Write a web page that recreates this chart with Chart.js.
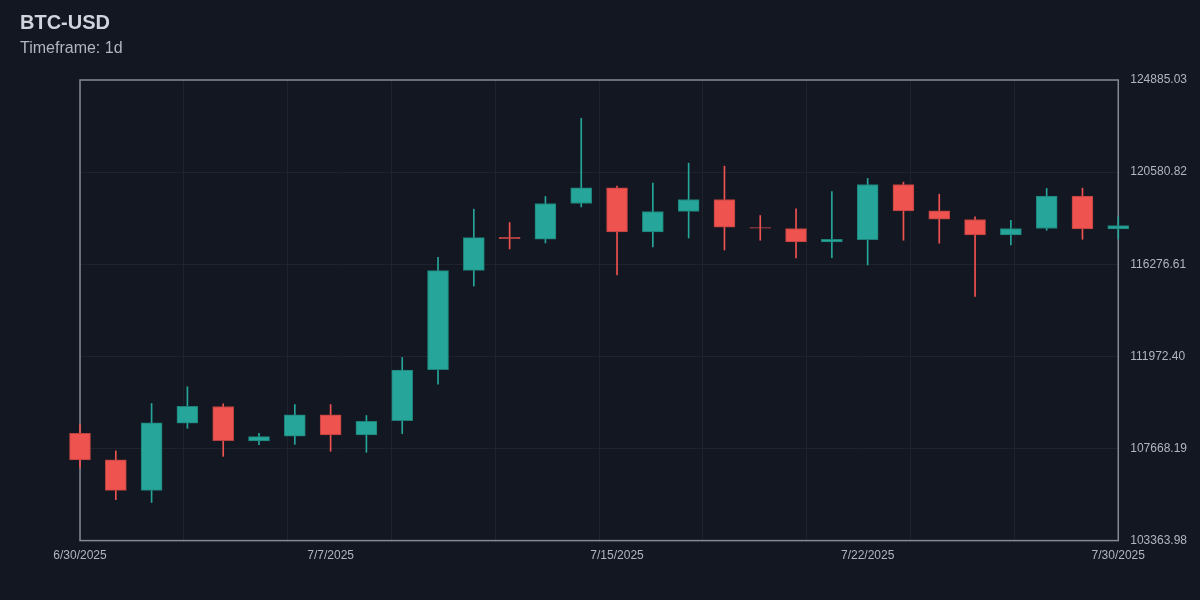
<!DOCTYPE html>
<html lang="en">
<head>
    <meta charset="UTF-8">
    <title>BTC-USD</title>
    <script src="https://cdn.jsdelivr.net/npm/chart.js"></script>
    <style>
        body, html {
            margin: 0;
            padding: 0;
            background-color: #131722;
            font-family: 'Liberation Sans', Arial, sans-serif;
            overflow: hidden;
        }
        .wrap {
            position: relative;
            width: 1200px;
            height: 600px;
        }
        .title {
            position: absolute;
            left: 20px;
            top: 11px;
            font-size: 20px;
            font-weight: bold;
            color: #d1d4dc;
        }
        .subtitle {
            position: absolute;
            left: 20px;
            top: 39px;
            font-size: 16px;
            color: #b2b5be;
        }
    </style>
</head>
<body>
    <div class="wrap">
        <canvas id="chart" width="1200" height="600"></canvas>
        <div class="title">BTC-USD</div>
        <div class="subtitle">Timeframe: 1d</div>
    </div>
    <script>
        // daily OHLC, 6/30 .. 7/30
        const opens  = [108379, 107134, 105711, 108847, 109628, 108023, 108238, 109240, 108304, 108973,
                        111346, 115993, 117537, 117444, 119115, 119845, 117785, 118745, 119302, 117991,
                        117945, 117317, 117430, 120004, 118768, 118366, 117645, 117945, 119456, 117926];
        const highs  = [108786, 107555, 109769, 110550, 109755, 108379, 109722, 109722, 109207, 111921,
                        116601, 118848, 118225, 119442, 123093, 119924, 120065, 121001, 120860, 118553,
                        118862, 119676, 120285, 120111, 119550, 118487, 118333, 119817, 119831, 118487];
        const lows   = [106787, 105276, 105149, 108613, 107302, 107850, 107864, 107536, 107489, 108365,
                        110672, 115258, 116990, 117271, 118955, 115773, 117083, 117505, 116943, 117397,
                        116569, 116587, 116241, 117397, 117257, 114776, 117177, 117865, 117444, 117458];
        const closes = [107134, 105711, 108865, 109642, 108037, 108224, 109240, 108304, 108940, 111327,
                        115979, 117523, 117477, 119115, 119845, 117785, 118740, 119302, 118005, 117959,
                        117317, 117444, 120004, 118768, 118380, 117645, 117945, 119456, 117926, 118085];

        const dateTicks  = [0, 7, 15, 22, 29];
        const dateLabels = ['6/30/2025', '7/7/2025', '7/15/2025', '7/22/2025', '7/30/2025'];
        const priceTicks = [103363.98, 107668.19, 111972.40, 116276.61, 120580.82, 124885.03];

        const UP = '#26a69a';
        const DOWN = '#ef5350';
        const textColor = '#b2b5be';
        const gridColor = '#1f232e';
        const frameColor = '#868993';

        const isUp = opens.map((o, i) => closes[i] >= o);

        const bodies = opens.map((o, i) => ({ x: i, y: [o, closes[i]] }));
        const wicks = lows.map((l, i) => ({ x: i, y: [l, highs[i]] }));

        // box around the plot area, under the candles
        const frame = {
            id: 'frame',
            beforeDatasetsDraw(chart) {
                const a = chart.chartArea;
                const ctx = chart.ctx;
                ctx.save();
                ctx.strokeStyle = frameColor;
                ctx.lineWidth = 1.5;
                ctx.strokeRect(a.left, a.top, a.right - a.left, a.bottom - a.top);
                ctx.restore();
            }
        };

        new Chart(document.getElementById('chart'), {
            type: 'bar',
            data: {
                datasets: [
                    {
                        label: 'wick',
                        data: wicks,
                        backgroundColor: isUp.map(u => u ? UP : DOWN),
                        barThickness: 1,
                        grouped: false,
                        order: 2,
                        clip: false
                    },
                    {
                        label: 'body',
                        data: bodies,
                        backgroundColor: isUp.map(u => u ? UP : DOWN),
                        borderColor: isUp.map(u => u ? '#1d8077' : '#b8403f'),
                        borderWidth: 1,
                        borderSkipped: false,
                        barThickness: 21,
                        grouped: false,
                        order: 1,
                        clip: false
                    }
                ]
            },
            options: {
                responsive: false,
                animation: false,
                layout: { padding: { left: 80, right: 1, top: 80, bottom: 37 } },
                plugins: {
                    legend: { display: false },
                    tooltip: { enabled: false }
                },
                scales: {
                    x: {
                        type: 'linear',
                        offset: false,
                        min: 0,
                        max: 29,
                        afterBuildTicks: s => { s.ticks = dateTicks.map(v => ({ value: v })); },
                        ticks: {
                            color: textColor,
                            font: { family: 'Liberation Sans', size: 12 },
                            padding: 0,
                            maxRotation: 0,
                            autoSkip: false,
                            callback: (v) => dateLabels[dateTicks.indexOf(v)]
                        },
                        grid: { display: false },
                        border: { display: false }
                    },
                    xg: {
                        type: 'linear',
                        position: 'bottom',
                        offset: false,
                        min: 0,
                        max: 29,
                        afterBuildTicks: s => {
                            const t = [];
                            for (let k = 0; k <= 10; k++) t.push({ value: s.min + k * (s.max - s.min) / 10 });
                            s.ticks = t;
                        },
                        ticks: { display: false },
                        grid: { color: gridColor, drawTicks: false, offset: false },
                        border: { display: false }
                    },
                    y: {
                        position: 'right',
                        min: priceTicks[0],
                        max: priceTicks[priceTicks.length - 1],
                        afterBuildTicks: s => { s.ticks = priceTicks.map(v => ({ value: v })); },
                        ticks: {
                            color: textColor,
                            font: { family: 'Liberation Sans', size: 12 },
                            padding: 12,
                            callback: v => v.toFixed(2)
                        },
                        grid: { color: gridColor, drawTicks: false },
                        border: { display: false }
                    }
                }
            },
            plugins: [frame]
        });
    </script>
</body>
</html>
